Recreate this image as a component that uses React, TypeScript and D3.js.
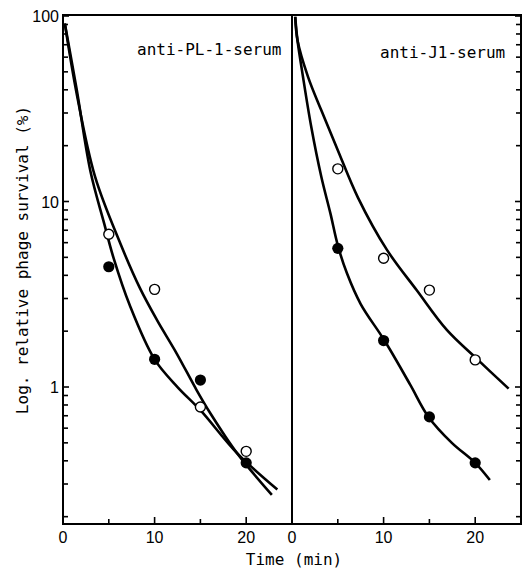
import React from "react";
import * as d3 from "d3";

// sampling times (min)
const times = [5, 10, 15, 20];

// anti-PL-1-serum
const plOpen = [6.66, 3.36, 0.78, 0.45];
const plFilled = [4.45, 1.41, 1.09, 0.39];
// hand-drawn fit curves, [time, survival %]
const plCurveA = [[0.2, 91], [1.5, 40], [3, 14.5], [4.5, 7.6], [5.5, 5.0], [7.3, 2.75], [10, 1.41], [12.5, 1.0], [15, 0.75], [19, 0.44], [23.4, 0.28]];
const plCurveB = [[0.2, 91], [1.5, 38], [3.5, 13.6], [6.25, 5.95], [8.4, 3.41], [10.25, 2.3], [12.4, 1.52], [14.6, 0.96], [16.1, 0.72], [19, 0.44], [22.8, 0.262]];

// anti-J1-serum
const j1Open = [15.0, 4.94, 3.33, 1.4];
const j1Filled = [5.59, 1.78, 0.69, 0.39];
const j1CurveOpen = [[0.35, 99], [0.6, 74], [1.75, 47], [3.2, 31], [5, 18.9], [7.2, 10.5], [10.35, 5.5], [13.6, 3.33], [16.9, 2.03], [20.3, 1.4], [23.65, 0.98]];
const j1CurveFilled = [[0.35, 99], [0.6, 74], [1.2, 47], [2.1, 25.3], [3.2, 13.6], [4.2, 8.6], [5, 5.8], [6, 4.1], [7.5, 2.8], [10.1, 1.78], [12.9, 1.03], [14.9, 0.69], [17.45, 0.5], [20, 0.39], [21.6, 0.315]];

const xMajor = [0, 10, 20];
const xMinor = [5, 15];
const yLabels = [100, 10, 1];

const W = 525;
const H = 570;
const top = 16;
const bottom = 524;

const y = d3.scaleLog().domain([0.1826, 100]).range([bottom, top]);
const xL = d3.scaleLinear().domain([0, 25]).range([63, 292]);
const xR = d3.scaleLinear().domain([0, 25]).range([292, 521]);

// minor + major log ticks 0.2 .. 100
const yTicks: number[] = [];
[0.1, 1, 10].forEach((d) => {
  for (let k = 1; k <= 9; k++) {
    const v = d * k;
    if (v >= 0.2) yTicks.push(v);
  }
});
yTicks.push(100);

const mono = "'DejaVu Sans Mono', monospace";
const sans = "'Liberation Sans', Arial, sans-serif";

function Panel({ x, open, filled, curves, label, labelX, labelY }: any) {
  const line = d3
    .line<number[]>()
    .x((d) => x(d[0]))
    .y((d) => y(d[1]))
    .curve(d3.curveCatmullRom.alpha(0.5));
  return (
    <g>
      {curves.map((c: number[][], i: number) => (
        <path key={i} d={line(c) || ""} fill="none" stroke="#000" strokeWidth={2.6} />
      ))}
      {times.map((t, i) => (
        <circle key={"f" + i} cx={x(t)} cy={y(filled[i])} r={5.6} fill="#000" />
      ))}
      {times.map((t, i) => (
        <circle key={"o" + i} cx={x(t)} cy={y(open[i])} r={5} fill="#fff" stroke="#000" strokeWidth={1.4} />
      ))}
      {xMajor.map((t) => (
        <g key={"xm" + t}>
          <line x1={x(t)} x2={x(t)} y1={bottom} y2={bottom - 7} stroke="#000" strokeWidth={1.6} />
          <text x={x(t)} y={543} textAnchor="middle" fontFamily={sans} fontSize={16}>
            {t}
          </text>
        </g>
      ))}
      {xMinor.map((t) => (
        <line key={"xn" + t} x1={x(t)} x2={x(t)} y1={bottom} y2={bottom - 5} stroke="#000" strokeWidth={1.6} />
      ))}
      <text x={labelX} y={labelY} fontFamily={mono} fontSize={16}>
        {label}
      </text>
    </g>
  );
}

export default function App() {
  return (
    <svg
      width={W}
      height={H}
      style={{ position: "absolute", left: 0, top: 0, background: "#fff" }}
    >
      <rect x={0} y={0} width={W} height={H} fill="#fff" />
      <Panel
        x={xL}
        open={plOpen}
        filled={plFilled}
        curves={[plCurveA, plCurveB]}
        label="anti-PL-1-serum"
        labelX={137}
        labelY={55}
      />
      <Panel
        x={xR}
        open={j1Open}
        filled={j1Filled}
        curves={[j1CurveOpen, j1CurveFilled]}
        label="anti-J1-serum"
        labelX={380}
        labelY={58}
      />
      {/* frame */}
      <rect x={63} y={top - 1} width={521 - 63} height={bottom - top + 1} fill="none" stroke="#000" strokeWidth={2} />
      <line x1={292} x2={292} y1={top - 1} y2={bottom} stroke="#000" strokeWidth={2} />
      {/* y ticks, left and right edges */}
      {yTicks.map((v) => {
        const major = yLabels.includes(v);
        const len = major ? 6 : 5;
        return (
          <g key={"y" + v}>
            <line x1={63} x2={63 + len} y1={y(v)} y2={y(v)} stroke="#000" strokeWidth={1.6} />
            <line x1={521} x2={521 - len} y1={y(v)} y2={y(v)} stroke="#000" strokeWidth={1.6} />
          </g>
        );
      })}
      {yLabels.map((v) => (
        <text key={"yl" + v} x={59} y={y(v) + 6} textAnchor="end" fontFamily={sans} fontSize={16}>
          {v}
        </text>
      ))}
      <text x={294} y={565} textAnchor="middle" fontFamily={mono} fontSize={16}>
        Time (min)
      </text>
      <text
        transform={`translate(28, 260) rotate(-90)`}
        textAnchor="middle"
        fontFamily={mono}
        fontSize={16}
      >
        Log. relative phage survival (%)
      </text>
    </svg>
  );
}
